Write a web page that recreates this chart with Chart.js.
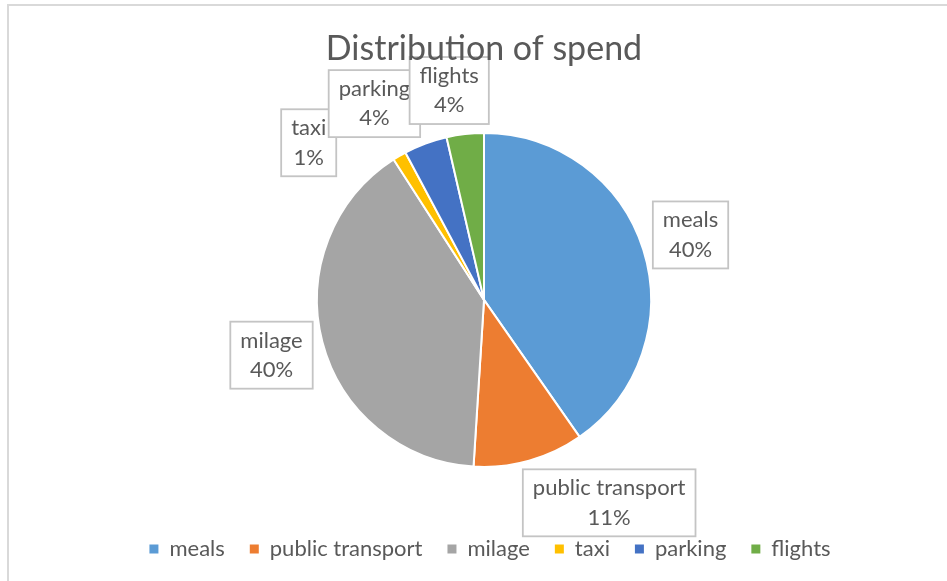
<!DOCTYPE html>
<html>
<head>
<meta charset="utf-8">
<script src="https://cdn.jsdelivr.net/npm/chart.js@4/dist/chart.umd.min.js"></script>
<style>
  html, body { margin: 0; padding: 0; background: #ffffff; }
  #wrap { position: relative; width: 947px; height: 581px; }
  canvas { display: block; }
</style>
</head>
<body>
<div id="wrap"><canvas id="c" width="947" height="581"></canvas></div>
<script>
// ---- data ----
const categories = ['meals', 'public transport', 'milage', 'taxi', 'parking', 'flights'];
const spendShare = [40.3, 10.7, 39.9, 1.3, 4.2, 3.6];
const sliceColors = ['#5B9BD5', '#ED7D31', '#A5A5A5', '#FFC000', '#4472C4', '#70AD47'];
const chartTitle = 'Distribution of spend';

const FONT = "Lato, 'Open Sans', sans-serif";
const TEXT = '#595959';

// frame around the chart object
const framePlugin = {
  id: 'frame',
  beforeDraw(chart) {
    const ctx = chart.ctx;
    ctx.save();
    ctx.fillStyle = '#ffffff';
    ctx.fillRect(0, 0, chart.width, chart.height);
    ctx.strokeStyle = '#d9d9d9';
    ctx.lineWidth = 2;
    ctx.beginPath();
    ctx.moveTo(8, chart.height + 2);
    ctx.lineTo(8, 5);
    ctx.lineTo(chart.width + 2, 5);
    ctx.stroke();
    ctx.restore();
  }
};

// small horizontal offset of the legend row
const legendShift = {
  id: 'legendShift',
  afterLayout(chart, args, opts) {
    if (chart.legend) {
      chart.legend.left += opts.dx;
      chart.legend.right += opts.dx;
    }
  }
};

// outside-end data labels with boxes (name + percentage); drawn before the
// title layer so the title text sits on top, as in the reference
const boxLabels = {
  id: 'boxLabels',
  beforeDraw(chart, args, opts) {
    const ctx = chart.ctx;
    const meta = chart.getDatasetMeta(0);
    const data = chart.data.datasets[0].data;
    const total = data.reduce((a, b) => a + b, 0);
    ctx.save();
    ctx.font = opts.fontSize + 'px ' + FONT;
    ctx.textAlign = 'center';
    ctx.textBaseline = 'middle';
    meta.data.forEach((arc, i) => {
      const p = arc.getProps(['x', 'y', 'startAngle', 'endAngle', 'outerRadius'], true);
      const mid = (p.startAngle + p.endAngle) / 2;
      const cx = Math.cos(mid), cy = Math.sin(mid);
      const l1 = chart.data.labels[i];
      const l2 = Math.round(data[i] / total * 100) + '%';
      const tw = Math.max(ctx.measureText(l1).width, ctx.measureText(l2).width);
      const w = tw + 2 * opts.padX;
      const h = 2 * opts.lineH + 2 * opts.padY;
      const hw = w / 2, hh = h / 2;
      const edge = Math.min(Math.abs(cx) > 1e-6 ? hw / Math.abs(cx) : 1e9,
                            Math.abs(cy) > 1e-6 ? hh / Math.abs(cy) : 1e9);
      const d = p.outerRadius + edge + opts.gap;
      const n = opts.nudge[i] || [0, 0];
      const bx = p.x + d * cx + n[0];
      const by = p.y + d * cy + n[1];
      ctx.fillStyle = '#ffffff';
      ctx.fillRect(bx - hw, by - hh, w, h);
      ctx.strokeStyle = '#c4c4c4';
      ctx.lineWidth = 1.8;
      ctx.strokeRect(bx - hw, by - hh, w, h);
      ctx.fillStyle = TEXT;
      ctx.fillText(l1, bx, by - opts.lineH / 2);
      ctx.fillText(l2, bx, by + opts.lineH / 2);
    });
    ctx.restore();
  }
};

new Chart(document.getElementById('c'), {
  type: 'pie',
  data: {
    labels: categories,
    datasets: [{
      data: spendShare,
      backgroundColor: sliceColors,
      borderColor: '#ffffff',
      borderWidth: 2,
      hoverOffset: 0,
      radius: 167
    }]
  },
  options: {
    responsive: false,
    animation: false,
    events: [],
    layout: { padding: { left: 21, right: 0, top: 0, bottom: 11 } },
    plugins: {
      title: {
        display: true,
        text: chartTitle,
        color: TEXT,
        font: { family: FONT, size: 34, weight: 'normal' },
        padding: { top: 29, bottom: 17 }
      },
      legend: {
        display: true,
        position: 'bottom',
        labels: {
          color: TEXT,
          font: { family: FONT, size: 22 },
          boxWidth: 9,
          boxHeight: 9,
          padding: 25,
          generateLabels: (chart) =>
            Chart.overrides.pie.plugins.legend.labels.generateLabels(chart)
              .map(it => Object.assign({}, it, { lineWidth: 0 }))
        }
      },
      tooltip: { enabled: false },
      legendShift: { dx: 6 },
      boxLabels: {
        fontSize: 22,
        lineH: 29.5,
        padX: 10,
        padY: 4,
        gap: 10,
        nudge: [[0, 0], [68, -1], [0, 0], [-66, 29], [-35, 3], [-11, 0]]
      }
    }
  },
  plugins: [framePlugin, legendShift, boxLabels]
});
</script>
</body>
</html>
